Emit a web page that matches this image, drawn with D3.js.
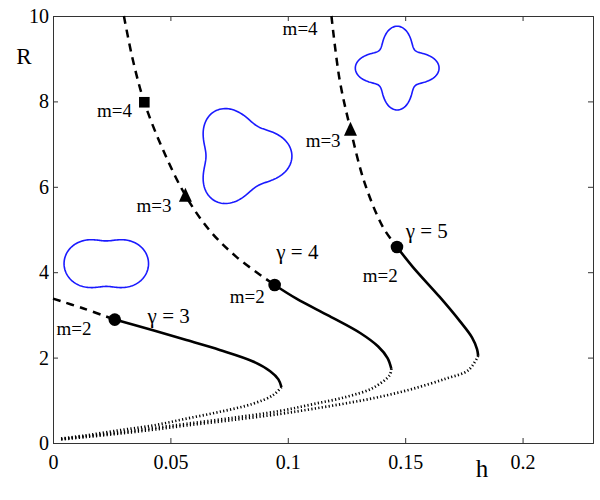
<!DOCTYPE html>
<html>
<head>
<meta charset="utf-8">
<script src="https://cdn.jsdelivr.net/npm/d3@7"></script>
<style>
  body { margin: 0; background: #fff; }
</style>
</head>
<body>
<div id="chart"></div>
<script>
// tick values
const xTicks = [0, 0.05, 0.1, 0.15, 0.2];
const yTicks = [0, 2, 4, 6, 8, 10];

// branches for gamma = 3, 4, 5  ([h, R])
const dashedG3 = [[0, 3.38], [0.013, 3.15], [0.0263, 2.89]];
const dashedG4 = [[0.0302, 10], [0.0341, 8.95], [0.0389, 7.98], [0.0469, 6.86], [0.0564, 5.80], [0.0667, 4.98], [0.0781, 4.36], [0.0944, 3.70]];
const dashedG5 = [[0.1186, 10], [0.1221, 8.50], [0.1267, 7.35], [0.1328, 6.08], [0.1405, 5.06], [0.1465, 4.59]];

const solidG3 = [[0.0263, 2.89], [0.0426, 2.64], [0.0568, 2.41], [0.0710, 2.18], [0.0852, 1.91], [0.0925, 1.68], [0.0960, 1.49], [0.0973, 1.31]];
const solidG4 = [[0.0944, 3.70], [0.1037, 3.38], [0.1178, 2.97], [0.1310, 2.57], [0.1385, 2.26], [0.1425, 1.99], [0.1441, 1.74]];
const solidG5 = [[0.1465, 4.59], [0.1533, 4.12], [0.1647, 3.42], [0.1732, 2.86], [0.1785, 2.47], [0.1806, 2.20], [0.1811, 2.04]];

const dottedG3 = [[0.0973, 1.31], [0.0937, 1.12], [0.0852, 0.92], [0.0710, 0.73], [0.0568, 0.57], [0.0426, 0.41], [0.0284, 0.30], [0.0142, 0.18], [0.003, 0.10]];
const dottedG4 = [[0.1441, 1.74], [0.1434, 1.59], [0.1363, 1.29], [0.1249, 1.08], [0.1107, 0.91], [0.0966, 0.75], [0.0752, 0.58], [0.0568, 0.45], [0.0426, 0.35], [0.0284, 0.25], [0.0142, 0.16], [0.003, 0.09]];
const dottedG5 = [[0.1811, 2.04], [0.1768, 1.70], [0.1675, 1.51], [0.1533, 1.27], [0.1391, 1.08], [0.1249, 0.93], [0.1107, 0.80], [0.0966, 0.68], [0.0752, 0.53], [0.0568, 0.41], [0.0426, 0.31], [0.0284, 0.22], [0.0142, 0.14], [0.003, 0.08]];

// bifurcation points
const circlePts = [[0.0263, 2.89], [0.0944, 3.70], [0.1465, 4.59]];
const trianglePts = [[0.0564, 5.80], [0.1267, 7.35]];
const squarePts = [[0.0389, 7.98]];

// annotations: text, h, R (baseline start)
const labels = [
  ["γ = 3", 0.0403, 2.81, "g"], ["γ = 4", 0.0951, 4.32, "g"], ["γ = 5", 0.1502, 4.79, "g"],
  ["m=2", 0.0015, 2.52, "m"], ["m=2", 0.0753, 3.27, "m"], ["m=2", 0.1319, 3.77, "m"],
  ["m=3", 0.0356, 5.41, "m"], ["m=4", 0.0187, 7.64, "m"],
  ["m=3", 0.1076, 6.94, "m"], ["m=4", 0.0978, 9.55, "m"]
];

// mode shapes: m, centre h, centre R, radius (in h units), amplitude
const shapeM = [2, 3, 4];
const shapeH = [0.0227, 0.0798, 0.1466];
const shapeR = [4.20, 6.72, 8.78];
const shapeSize = [0.01384, 0.0183, 0.01427];
const shapeAmp = [0.3, 0.2, 0.25];

const FONT = "Liberation Serif";
const width = 600, height = 500;
const margin = {top: 16, right: 7, bottom: 57, left: 53};

const svg = d3.select("#chart").append("svg")
    .attr("width", width)
    .attr("height", height);

const x = d3.scaleLinear().domain([0, 0.23]).range([margin.left, width - margin.right]);
const y = d3.scaleLinear().domain([0, 10]).range([height - margin.bottom, margin.top]);

// axes box with inward ticks on all sides
const fmt = d => d === 0 ? "0" : String(d);
svg.append("g")
    .attr("transform", "translate(0," + y(0) + ")")
    .call(d3.axisBottom(x).tickValues(xTicks).tickFormat(fmt).tickSize(-5).tickPadding(10))
    .call(g => g.selectAll("text").attr("font-size", 20).attr("dy", "0.8em"));
svg.append("g")
    .attr("transform", "translate(0," + y(10) + ")")
    .call(d3.axisTop(x).tickValues(xTicks).tickFormat("").tickSize(-5));
svg.append("g")
    .attr("transform", "translate(" + x(0) + ",0)")
    .call(d3.axisLeft(y).tickValues(yTicks).tickSize(-5).tickPadding(4))
    .call(g => g.selectAll("text").attr("font-size", 20));
svg.append("g")
    .attr("transform", "translate(" + x(0.23) + ",0)")
    .call(d3.axisRight(y).tickValues(yTicks).tickFormat("").tickSize(-5));
svg.selectAll(".domain, .tick line").attr("stroke", "#333").attr("stroke-width", 1);

svg.append("text").attr("x", 482).attr("y", 477).attr("text-anchor", "middle")
    .attr("font-size", 25).text("h");
svg.append("text").attr("x", 24).attr("y", 64).attr("text-anchor", "middle")
    .attr("font-size", 23).text("R");

const plot = svg.append("g");
const line = d3.line().x(d => x(d[0])).y(d => y(d[1])).curve(d3.curveCatmullRom.alpha(0.5));

[dottedG3, dottedG4, dottedG5].forEach(d => {
  plot.append("path").attr("d", line(d)).attr("fill", "none").attr("stroke", "#000")
      .attr("stroke-width", 2.7).attr("stroke-dasharray", "1.2,2.3");
});
[dashedG3, dashedG4, dashedG5].forEach(d => {
  plot.append("path").attr("d", line(d)).attr("fill", "none").attr("stroke", "#000")
      .attr("stroke-width", 2.5).attr("stroke-dasharray", "8,6");
});
[solidG3, solidG4, solidG5].forEach(d => {
  plot.append("path").attr("d", line(d)).attr("fill", "none").attr("stroke", "#000")
      .attr("stroke-width", 2.6);
});

plot.selectAll(".dot").data(circlePts).enter().append("circle")
    .attr("cx", d => x(d[0])).attr("cy", d => y(d[1])).attr("r", 6.3).attr("fill", "#000");
plot.selectAll(".tri").data(trianglePts).enter().append("path")
    .attr("d", "M0,-7.5L6.5,6.5L-6.5,6.5Z")
    .attr("transform", d => "translate(" + x(d[0]) + "," + y(d[1]) + ")").attr("fill", "#000");
plot.selectAll(".sq").data(squarePts).enter().append("rect")
    .attr("x", d => x(d[0]) - 5.3).attr("y", d => y(d[1]) - 5.3)
    .attr("width", 10.6).attr("height", 10.6).attr("fill", "#000");

plot.selectAll(".lab").data(labels).enter().append("text")
    .attr("x", d => x(d[1])).attr("y", d => y(d[2]))
    .attr("font-size", d => d[3] === "g" ? 21 : 19)
    .text(d => d[0]);

// blue mode shapes r = r0 (1 + a cos(m t))
const shapeLine = d3.line().curve(d3.curveLinearClosed);
shapeM.forEach((m, i) => {
  const cx = x(shapeH[i]), cy = y(shapeR[i]);
  const r0 = x(shapeSize[i]) - x(0);
  const pts = d3.range(0, 2 * Math.PI, Math.PI / 90).map(t => {
    const r = r0 * (1 + shapeAmp[i] * Math.cos(m * t));
    return [cx + r * Math.cos(t), cy - r * Math.sin(t)];
  });
  plot.append("path").attr("d", shapeLine(pts)).attr("fill", "none")
      .attr("stroke", "#1a1aff").attr("stroke-width", 1.6);
});
svg.selectAll("g").attr("font-family", FONT);
svg.selectAll("text").attr("font-family", FONT).attr("fill", "#000");
</script>
</body>
</html>
